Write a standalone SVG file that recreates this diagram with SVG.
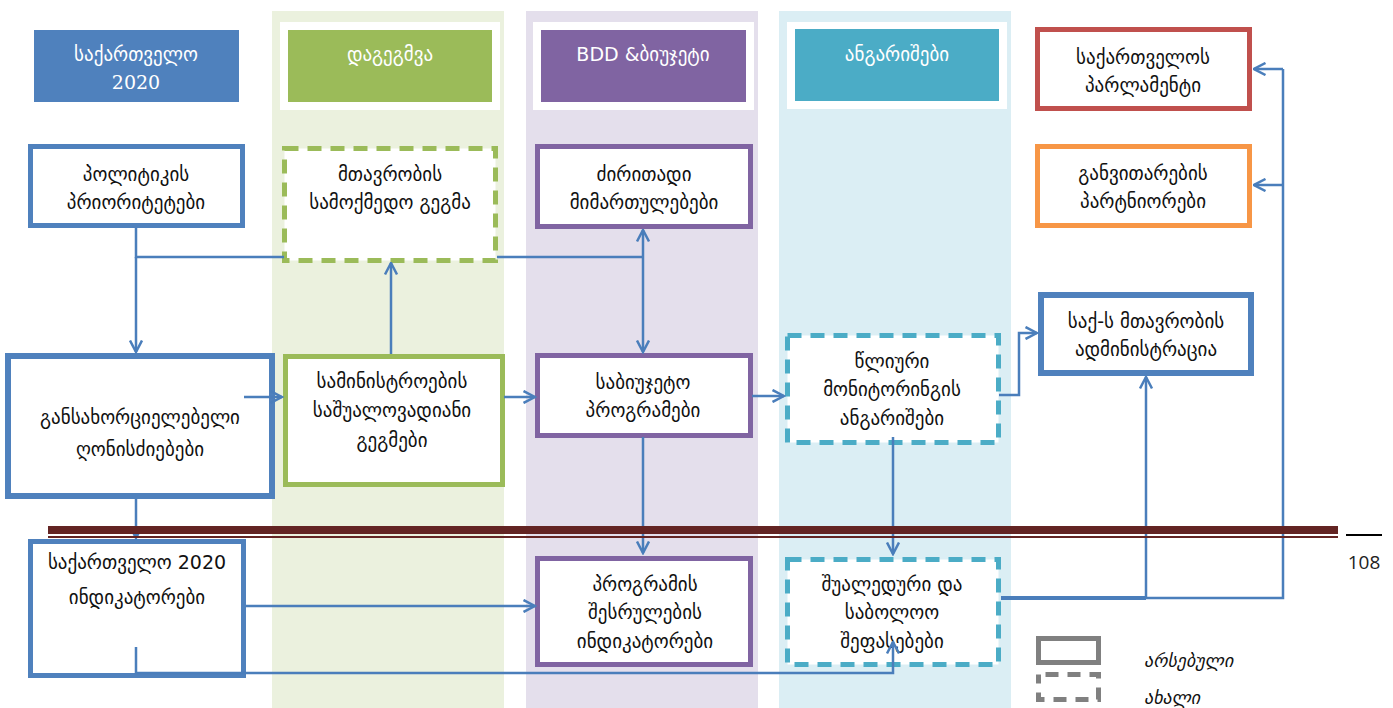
<svg xmlns="http://www.w3.org/2000/svg" width="1393" height="708" viewBox="0 0 1393 708">
<style>
text{font-family:"DejaVu Sans","Noto Sans",sans-serif;font-size:19px;fill:#111;text-anchor:middle}
.hd{fill:#fff;font-size:19px}
.box{fill:#fff;stroke-width:5}
.dash{stroke-dasharray:14 9}
.blue{stroke:#4f81bd}
.green{stroke:#9bbb59}
.purple{stroke:#8064a2}
.teal{stroke:#4bacc6}
.con{fill:none;stroke:#4a7ebb;stroke-width:2.5}
.arr{marker-end:url(#ah)}
.leg{font-style:italic;text-anchor:start;font-size:18px}
</style>
<defs>
<marker id="ah" viewBox="0 0 14 14" refX="12.5" refY="7" markerWidth="14" markerHeight="14" markerUnits="userSpaceOnUse" orient="auto">
<path d="M1,1 L12.5,7 L1,13" fill="none" stroke="#4a7ebb" stroke-width="2.5"/>
</marker>
</defs>
<rect width="1393" height="708" fill="#fff"/>
<g id="bands">
<rect x="272" y="11" width="232" height="697" fill="#ebf1de"/>
<rect x="526" y="11" width="232" height="697" fill="#e4dfec"/>
<rect x="779" y="11" width="232" height="697" fill="#dbeef4"/>
</g>
<g id="header-georgia2020">
<rect x="34" y="30" width="205" height="72" fill="#4f81bd"/>
<text class="hd" x="136" y="61">საქართველო</text>
<text class="hd" x="136" y="89" style="font-family:'DejaVu Serif',serif">2020</text>
</g>
<g id="header-planning">
<rect x="280" y="22" width="220" height="88" fill="#fff"/>
<rect x="288" y="30" width="204" height="72" fill="#9bbb59"/>
<text class="hd" x="390" y="61">დაგეგმვა</text>
</g>
<g id="header-bdd">
<rect x="533" y="22" width="221" height="88" fill="#fff"/>
<rect x="541" y="30" width="205" height="72" fill="#8064a2"/>
<text class="hd" x="643" y="61">BDD &amp;ბიუჯეტი</text>
</g>
<g id="header-reports">
<rect x="787" y="22" width="220" height="87" fill="#fff"/>
<rect x="795" y="29" width="204" height="72" fill="#4bacc6"/>
<text class="hd" x="897" y="61">ანგარიშები</text>
</g>
<g id="node-policy">
<rect class="box blue" x="30.5" y="146.5" width="212" height="79"/>
<text x="136" y="181">პოლიტიკის</text>
<text x="136" y="209">პრიორიტეტები</text>
</g>
<g id="node-gov-action-plan">
<rect class="box green dash" x="284.5" y="148.5" width="211" height="112"/>
<text x="390" y="181">მთავრობის</text>
<text x="390" y="209">სამოქმედო გეგმა</text>
</g>
<g id="node-main-directions">
<rect class="box purple" x="537.5" y="146.5" width="213" height="80"/>
<text x="644" y="181">ძირითადი</text>
<text x="644" y="209">მიმართულებები</text>
</g>
<g id="node-parliament">
<rect class="box" style="stroke:#c0504d" x="1037.5" y="29.5" width="212" height="79"/>
<text x="1143" y="64">საქართველოს</text>
<text x="1143" y="92">პარლამენტი</text>
</g>
<g id="node-partners">
<rect class="box" style="stroke:#f79646" x="1037.5" y="146.5" width="212" height="79"/>
<text x="1143" y="180">განვითარების</text>
<text x="1143" y="208">პარტნიორები</text>
</g>
<g id="node-admin">
<rect class="box blue" style="stroke-width:6" x="1041" y="295" width="210" height="78"/>
<text x="1146" y="328">საქ-ს მთავრობის</text>
<text x="1146" y="356">ადმინისტრაცია</text>
</g>
<g id="node-measures">
<rect class="box blue" style="stroke-width:6" x="8" y="356" width="264" height="140"/>
<text x="140" y="424">განსახორციელებელი</text>
<text x="140" y="456">ღონისძიებები</text>
</g>
<g id="node-ministries">
<rect class="box green" x="285.5" y="356.5" width="217" height="128"/>
<text x="392" y="388">სამინისტროების</text>
<text x="392" y="417">საშუალოვადიანი</text>
<text x="392" y="447">გეგმები</text>
</g>
<g id="node-budget-programs">
<rect class="box purple" x="537.5" y="355.5" width="213" height="80"/>
<text x="643" y="389">საბიუჯეტო</text>
<text x="643" y="417">პროგრამები</text>
</g>
<g id="node-annual-monitoring">
<rect class="box teal dash" x="787.5" y="335.5" width="211" height="107"/>
<text x="892" y="368">წლიური</text>
<text x="892" y="396">მონიტორინგის</text>
<text x="892" y="425">ანგარიშები</text>
</g>
<g id="node-indicators">
<rect class="box blue" x="30.5" y="541.5" width="213" height="134"/>
<text x="137" y="569">საქართველო 2020</text>
<text x="137" y="604">ინდიკატორები</text>
</g>
<g id="node-program-indicators">
<rect class="box purple" x="537.5" y="558.5" width="213" height="106"/>
<text x="645" y="591">პროგრამის</text>
<text x="645" y="619">შესრულების</text>
<text x="645" y="648">ინდიკატორები</text>
</g>
<g id="node-evaluations">
<rect class="box teal dash" x="787.5" y="559.5" width="211" height="105"/>
<text x="892" y="591">შუალედური და</text>
<text x="892" y="619">საბოლოო</text>
<text x="892" y="648">შეფასებები</text>
</g>
<g id="connectors">
<polyline class="con" points="136,228 136,257 284,257"/>
<polyline class="con arr" points="136,257 136,352"/>
<polyline class="con" points="497,257 643,257"/>
<polyline class="con arr" points="643,257 643,230"/>
<polyline class="con arr" points="643,257 643,352"/>
<polyline class="con arr" points="391,354 391,263"/>
<polyline class="con arr" points="244,397 282,397"/>
<polyline class="con arr" points="504,397 535,397"/>
<polyline class="con arr" points="752,396 784,396"/>
<polyline class="con arr" points="999,395 1019,395 1019,333 1037,333"/>
<polyline class="con arr" points="136,499 136,538"/>
<polyline class="con arr" points="643,437 643,553"/>
<polyline class="con arr" points="893,437 893,554"/>
<polyline class="con arr" points="246,606 535,606"/>
<polyline class="con arr" points="136,647 136,673 893,673 893,642"/>
<polyline class="con" points="1001,598 1146,598" style="stroke-width:4"/>
<polyline class="con arr" points="1146,598 1146,377"/>
<polyline class="con" points="1146,598 1283,598 1283,69"/>
<polyline class="con arr" points="1283,69 1254,69"/>
<polyline class="con arr" points="1283,185 1254,185"/>
</g>
<g id="divider">
<rect x="48" y="526" width="1290" height="8" fill="#632423"/>
<rect x="48" y="536" width="1290" height="2" fill="#632423"/>
<rect x="1346" y="534" width="36" height="2" fill="#000"/>
<text x="1364" y="569" style="font-family:'Open Sans','DejaVu Sans',sans-serif;font-size:19px;fill:#222">108</text>
</g>
<g id="legend">
<rect x="1038.5" y="638.5" width="60" height="24" fill="none" stroke="#808080" stroke-width="5"/>
<rect x="1038.5" y="674.5" width="60" height="25" fill="none" stroke="#808080" stroke-width="5" stroke-dasharray="13 9" stroke-dashoffset="-7"/>
<text class="leg" x="1144" y="667">არსებული</text>
<text class="leg" x="1144" y="704">ახალი</text>
</g>
</svg>
